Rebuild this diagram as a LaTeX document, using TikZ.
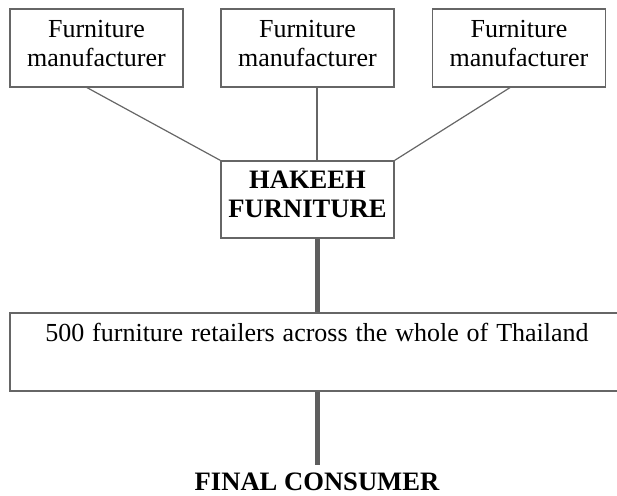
\documentclass[tikz,border=0pt]{standalone}
\usepackage{fontspec}
\setmainfont{Liberation Serif}
\definecolor{boxgray}{HTML}{666666}
\definecolor{flowgray}{HTML}{5E5E5E}

\begin{document}
\begin{tikzpicture}[x=0.5pt, y=-0.5pt, font=\fontsize{13}{14.5}\selectfont,
    box/.style={draw=boxgray, line width=0.6pt, align=center, inner sep=0pt,
                minimum width=86.5pt, minimum height=39pt},
    lift/.style={text depth=#1},
    bold/.style={font=\fontsize{13.3}{14.5}\selectfont\bfseries},
    link/.style={draw=boxgray, line width=0.6pt},
    flow/.style={draw=flowgray, line width=2.5pt}]

    \clip (0,0) rectangle (617,495);

    \node [box,lift=5pt] (m1) at (96.5,48) {Furniture\\manufacturer};
    \node [box,lift=5pt] (m2) at (307.5,48) {Furniture\\manufacturer};
    \node [box,lift=5pt] (m3) at (519,48) {Furniture\\manufacturer};
    \node [box,bold,lift=5pt,minimum height=38.5pt] (hf) at (307.5,199.5) {HAKEEH\\FURNITURE};
    \node [box,lift=5pt,minimum width=307pt] (ret) at (317,352) {\spaceskip=3.95pt\relax 500 furniture retailers across the whole of Thailand\\\mbox{}};
    \node [bold,anchor=base] (fc) at (317,490) {FINAL CONSUMER};

 \path[link]
      ([xshift=-4.75pt]m1.south) edge (hf.north west)
      ([xshift=4.75pt]m2.south) edge ([xshift=4.75pt]hf.north)
      ([xshift=-4.5pt]m3.south) edge (hf.north east);
 \path[flow]
      ([xshift=4.75pt]hf.south) edge (ret.north)
      (ret.south) edge (fc.north);
\end{tikzpicture}
\end{document}
